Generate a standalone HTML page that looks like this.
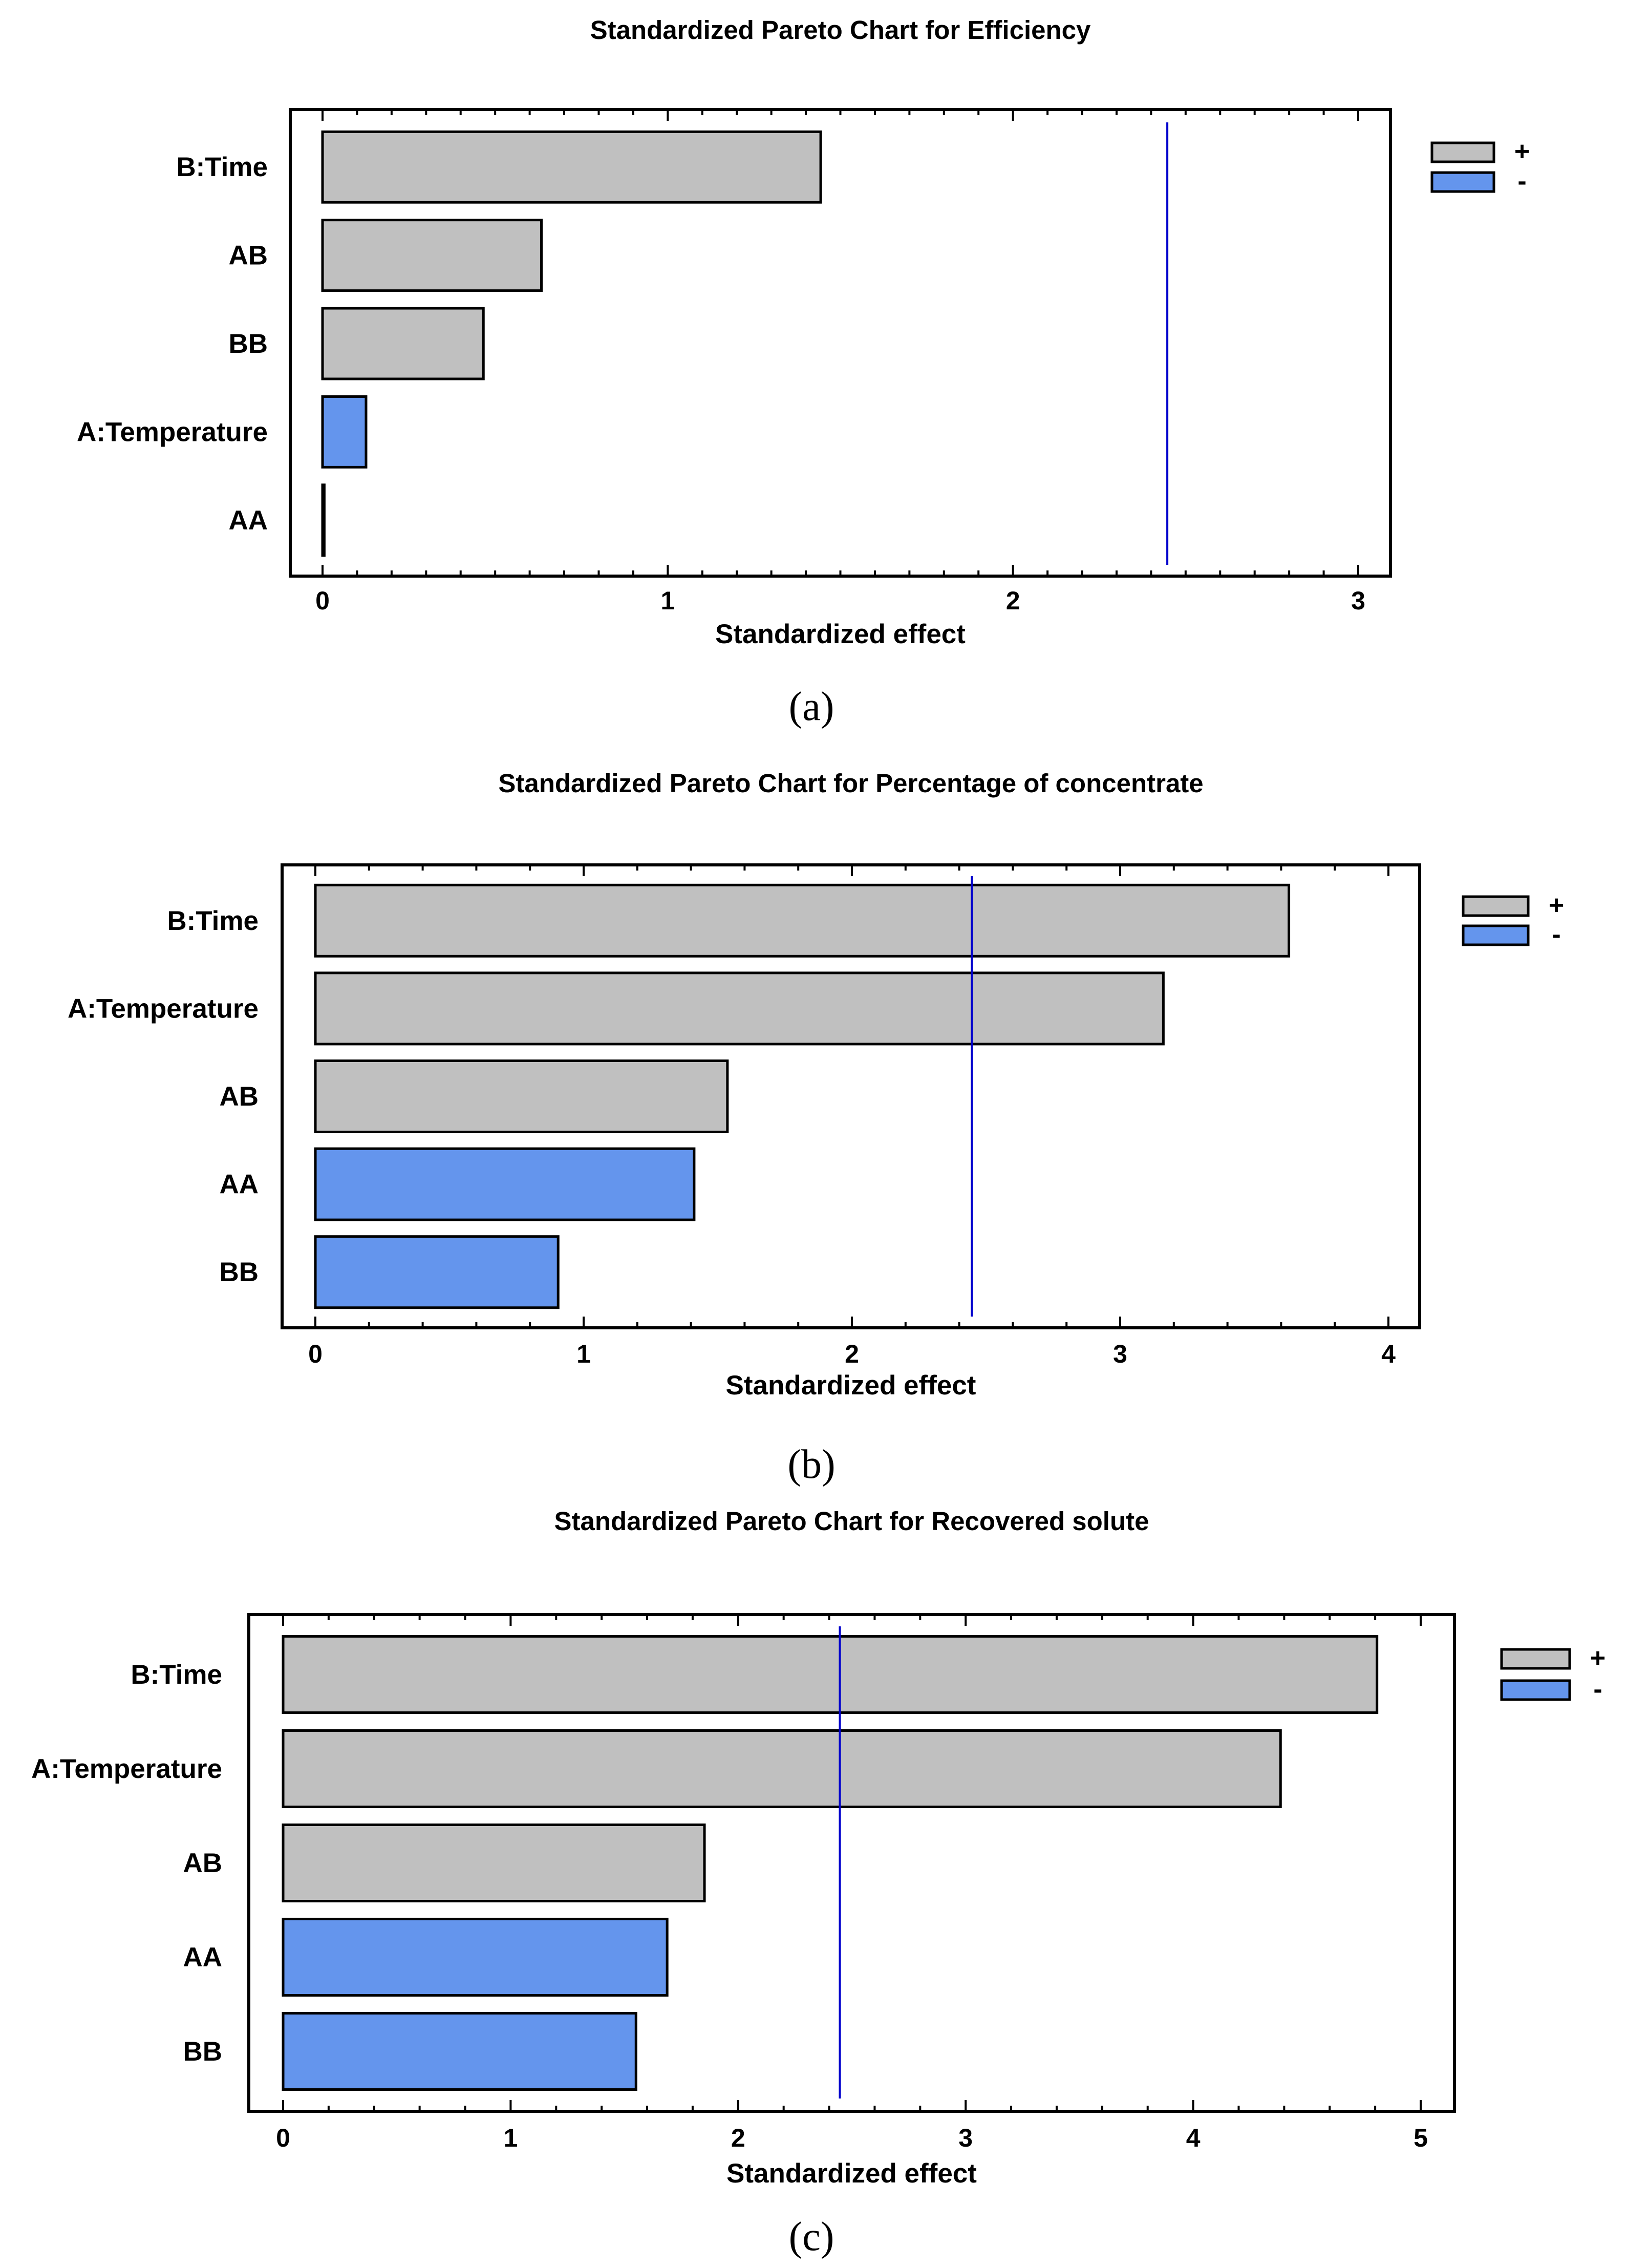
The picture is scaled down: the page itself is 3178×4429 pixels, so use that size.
<!DOCTYPE html>
<html><head><meta charset="utf-8">
<style>html,body{margin:0;padding:0;background:#fff;}svg{display:block;}</style>
</head><body>
<svg id="fig" width="3178" height="4429" viewBox="0 0 3178 4429" xmlns="http://www.w3.org/2000/svg" font-family="Liberation Sans, Arial, sans-serif"></svg>
<script>
// Chart (a) Efficiency
const catsA = ["B:Time","AB","BB","A:Temperature","AA"];
const valsA = [1.443,0.634,0.466,0.126,0.005];
const signA = ["+","+","+","-","+"];
const ticksA = ["0","1","2","3"];
const critA = [2.447];
// Chart (b) Percentage of concentrate
const catsB = ["B:Time","A:Temperature","AB","AA","BB"];
const valsB = [3.629,3.161,1.536,1.412,0.905];
const signB = ["+","+","+","-","-"];
const ticksB = ["0","1","2","3","4"];
const critB = [2.447];
// Chart (c) Recovered solute
const catsC = ["B:Time","A:Temperature","AB","AA","BB"];
const valsC = [4.808,4.384,1.852,1.688,1.551];
const signC = ["+","+","+","-","-"];
const ticksC = ["0","1","2","3","4","5"];
const critC = [2.447];

const NS="http://www.w3.org/2000/svg";
const svg=document.getElementById('fig');
function mk(tag,attrs,parent){const e=document.createElementNS(NS,tag);for(const k in attrs)e.setAttribute(k,attrs[k]);(parent||svg).appendChild(e);return e;}

function chart(cfg,cats,vals,signs,ticks,crit){
  const g=mk('g',{});
  
  
  const xmax=Number(ticks[ticks.length-1]);
  const sx=v=>cfg.x0+(v/xmax)*(cfg.x1-cfg.x0);
  const t=mk('text',{x:(cfg.fl+cfg.fr)/2,y:cfg.titleY,'font-size':51,'font-weight':'bold','text-anchor':'middle'},g);
  t.textContent=cfg.title;
  
  
  const fr=mk('rect',{x:cfg.fl,y:cfg.ft,width:cfg.fr-cfg.fl,height:cfg.fb-cfg.ft,fill:'none',stroke:'#000','stroke-width':6},g);
  
  
  const nMinor=Math.round(xmax/cfg.minor);
  for(let i=0;i<=nMinor;i++){
    const v=i*cfg.minor;const x=sx(v);
    const major=Math.abs(v-Math.round(v))<1e-6;
    const len=major?22:11;
    const tk1=mk('line',{x1:x,x2:x,y1:cfg.ft,y2:cfg.ft+len,stroke:'#000','stroke-width':4},g);
    
    
    const tk2=mk('line',{x1:x,x2:x,y1:cfg.fb,y2:cfg.fb-len,stroke:'#000','stroke-width':4},g);
    
    
  }
  ticks.forEach(s=>{
    const tl=mk('text',{x:sx(Number(s)),y:cfg.tickY,'font-size':50,'font-weight':'bold','text-anchor':'middle'},g);
    tl.textContent=s;
    
    
  });
  const at=mk('text',{x:(cfg.fl+cfg.fr)/2,y:cfg.axisY,'font-size':53,'font-weight':'bold','text-anchor':'middle'},g);
  at.textContent='Standardized effect';
  
  
  const n=cats.length;const bandH=(cfg.barsBottom-cfg.barsTop)/n;const bh=bandH*cfg.fill;
  cats.forEach((c,i)=>{
    const yc=cfg.barsTop+bandH*(i+0.5);
    const b=mk('rect',{x:sx(0),y:yc-bh/2,width:Math.max(0,sx(vals[i])-sx(0)),height:bh,fill:signs[i]==='+'?'#c0c0c0':'#6495ed',stroke:'#000','stroke-width':5},g);
    
    
    const l=mk('text',{x:cfg.labelX,y:yc+18,'font-size':53,'font-weight':'bold','text-anchor':'end'},g);
    l.textContent=c;
    
    
  });
  const cl=mk('line',{x1:sx(crit[0]),x2:sx(crit[0]),y1:cfg.lt,y2:cfg.lb,stroke:'#0000cc','stroke-width':4},g);
  
  
  const lg=mk('g',{},g);
  
  
  [['+','#c0c0c0',cfg.legY1],['-','#6495ed',cfg.legY2]].forEach(([s,col,y])=>{
    const r=mk('rect',{x:cfg.legX,y:y,width:cfg.legW,height:37,fill:col,stroke:'#000','stroke-width':5},lg);
    
    
    const lt=mk('text',{x:cfg.legTX,y:y+34,'font-size':52,'font-weight':'bold','text-anchor':'middle'},lg);
    lt.textContent=s;
    
    
  });
  const sl=mk('text',{x:1585,y:cfg.subY,'font-size':80,'font-family':'Liberation Serif, serif','text-anchor':'middle'},g);
  sl.textContent=cfg.sub;
  
  
}

chart({name:'chart-efficiency',title:'Standardized Pareto Chart for Efficiency',fl:567,fr:2716,ft:214,fb:1125,x0:630,x1:2653,minor:0.1,
  titleY:76,tickY:1190,axisY:1256,barsTop:240,barsBottom:1102,fill:0.8,labelX:523,lt:239,lb:1103,
  legX:2797,legW:121,legY1:279,legY2:337,legTX:2973,subY:1406,sub:'(a)'},catsA,valsA,signA,ticksA,critA);
chart({name:'chart-percentage-concentrate',title:'Standardized Pareto Chart for Percentage of concentrate',fl:551,fr:2773,ft:1689,fb:2593,x0:616,x1:2712,minor:0.2,
  titleY:1547,tickY:2661,axisY:2723,barsTop:1712,barsBottom:2570,fill:0.81,labelX:505,lt:1711,lb:2571,
  legX:2858,legW:127,legY1:1751,legY2:1808,legTX:3040,subY:2886,sub:'(b)'},catsB,valsB,signB,ticksB,critB);
chart({name:'chart-recovered-solute',title:'Standardized Pareto Chart for Recovered solute',fl:486,fr:2841,ft:3153,fb:4123,x0:553,x1:2775,minor:0.2,
  titleY:2988,tickY:4192,axisY:4262,barsTop:3178,barsBottom:4098,fill:0.81,labelX:434,lt:3176,lb:4098,
  legX:2933,legW:133,legY1:3221,legY2:3282,legTX:3121,subY:4394,sub:'(c)'},catsC,valsC,signC,ticksC,critC);
</script>
</body></html>
